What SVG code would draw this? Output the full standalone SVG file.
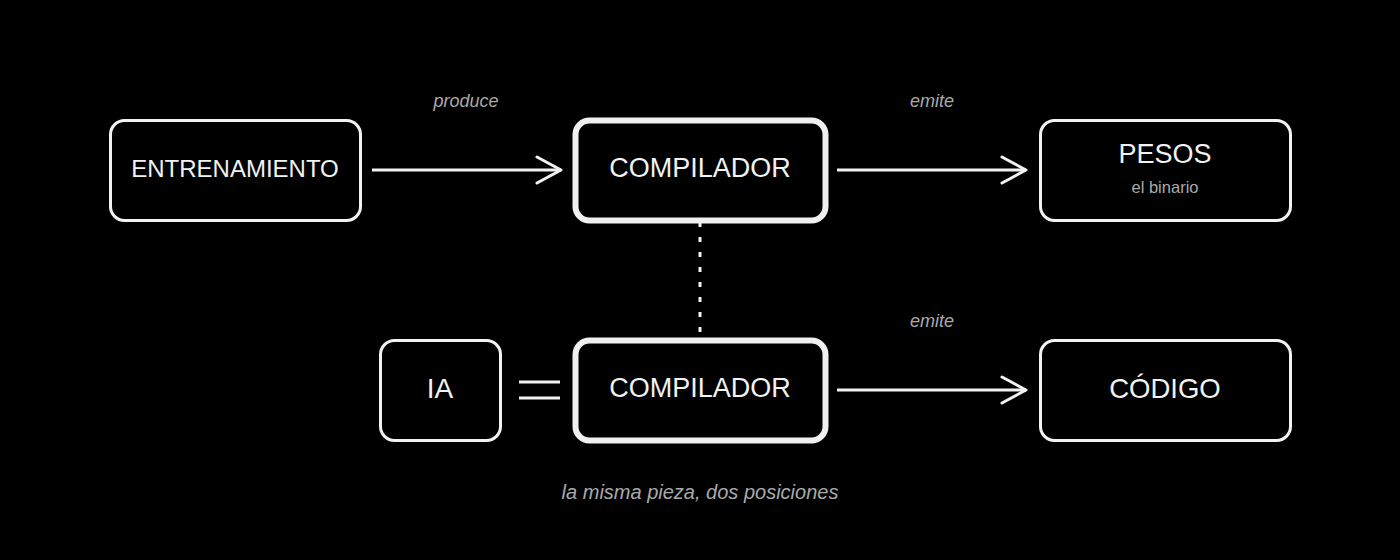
<svg xmlns="http://www.w3.org/2000/svg" width="1400" height="560" viewBox="0 0 1400 560">
<style>
.box{fill:#000;stroke:#f2f2f2;stroke-width:3}
.bold{fill:#000;stroke:#f0f0f0;stroke-width:6}
.t{font-family:"Liberation Sans",Arial,sans-serif;fill:#f2f2f2;text-anchor:middle}
.lbl{font-family:"Liberation Sans",Arial,sans-serif;fill:#aaaaaa;font-style:italic;text-anchor:middle}
.edge{stroke:#f2f2f2;stroke-width:3;fill:none}
</style>
<defs>
<marker id="arr" markerUnits="userSpaceOnUse" markerWidth="30" markerHeight="30" viewBox="-26 -15 30 30" refX="0" refY="0" orient="auto">
<path d="M-24,-13 L0,0 L-24,13" fill="none" stroke="#f2f2f2" stroke-width="3" stroke-linecap="round" stroke-linejoin="round"/>
</marker>
</defs>
<rect width="1400" height="560" fill="#000"/>
<g id="connectors">
<path class="edge" d="M372,170 H561" marker-end="url(#arr)"/>
<path class="edge" d="M837,170 H1026" marker-end="url(#arr)"/>
<path class="edge" d="M837,390 H1026" marker-end="url(#arr)"/>
<path d="M700,222 V332" stroke="#f2f2f2" stroke-width="3" stroke-dasharray="5,10" fill="none"/>
<path class="edge" d="M519,382 H560 M519,398 H560"/>
<text class="lbl" x="466" y="107" font-size="18">produce</text>
<text class="lbl" x="932" y="107" font-size="18">emite</text>
<text class="lbl" x="932" y="327" font-size="18">emite</text>
</g>
<g id="entrenamiento">
<rect class="box" x="110.5" y="120.5" width="250" height="100" rx="14"/>
<text class="t" x="235" y="177" font-size="24">ENTRENAMIENTO</text>
</g>
<g id="compilador1">
<rect class="bold" x="575.5" y="120.5" width="250" height="100" rx="14"/>
<text class="t" x="700" y="177" font-size="27">COMPILADOR</text>
</g>
<g id="pesos">
<rect class="box" x="1040.5" y="120.5" width="250" height="100" rx="14"/>
<text class="t" x="1165" y="163" font-size="27">PESOS</text>
<text x="1165" y="193" font-size="16.5" font-family="Liberation Sans, Arial, sans-serif" fill="#aaaaaa" text-anchor="middle">el binario</text>
</g>
<g id="ia">
<rect class="box" x="380.5" y="340.5" width="120" height="100" rx="14"/>
<text class="t" x="440" y="398" font-size="28">IA</text>
</g>
<g id="compilador2">
<rect class="bold" x="575.5" y="340.5" width="250" height="100" rx="14"/>
<text class="t" x="700" y="397" font-size="27">COMPILADOR</text>
</g>
<g id="codigo">
<rect class="box" x="1040.5" y="340.5" width="250" height="100" rx="14"/>
<text class="t" x="1165" y="398" font-size="27.5">CÓDIGO</text>
</g>
<text class="lbl" x="700" y="499" font-size="20">la misma pieza, dos posiciones</text>
</svg>
